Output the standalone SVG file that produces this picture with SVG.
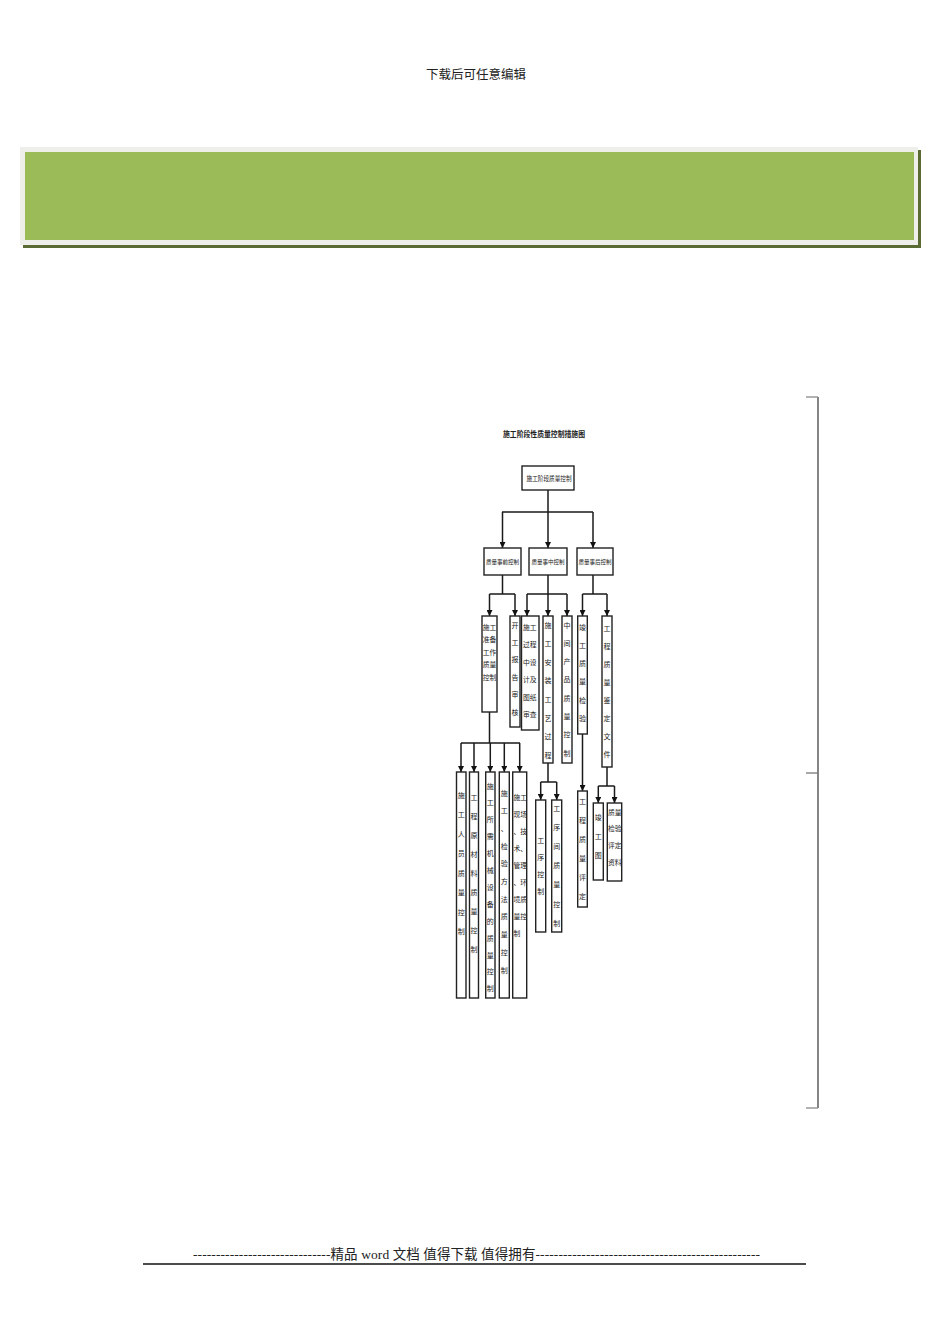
<svg xmlns="http://www.w3.org/2000/svg" width="950" height="1344" viewBox="0 0 950 1344">
<defs>
<style>
.t{font-family:"Liberation Serif","Noto Sans CJK SC",serif;fill:#222}
.v{font-size:7px;text-anchor:middle}
.r{font-size:6.8px;text-anchor:start}
.box{fill:#fff;stroke:#222;stroke-width:1.4}
.ln{fill:none;stroke:#1a1a1a;stroke-width:1.5}
.ar{fill:none;stroke:#1a1a1a;stroke-width:1.5;marker-end:url(#ah)}
</style>
<marker id="ah" viewBox="0 0 8 8" refX="8" refY="4" markerWidth="7" markerHeight="6" markerUnits="userSpaceOnUse" orient="auto">
<path d="M0,0 L8,4 L0,8 z" fill="#111"/>
</marker>
</defs>
<rect width="950" height="1344" fill="#fff"/>

<text class="t" x="476" y="79" font-size="12.5" text-anchor="middle" fill="#333">下载后可任意编辑</text>

<g id="banner">
<rect x="23" y="150" width="898" height="98" fill="#5a6b33"/>
<rect x="20" y="147" width="898" height="98" fill="#eeeeea"/>
<rect x="25" y="152" width="889" height="88" fill="#9bbb59"/>
</g>

<g id="bracket" stroke-width="1.3">
<line x1="818" y1="397" x2="818" y2="1108" stroke="#444"/>
<line x1="806" y1="397" x2="818" y2="397" stroke="#888"/>
<line x1="806" y1="773" x2="818" y2="773" stroke="#777"/>
<line x1="806" y1="1108" x2="818" y2="1108" stroke="#888"/>
</g>

<text id="title" class="t" x="503" y="437" font-size="8" font-weight="bold" textLength="82" lengthAdjust="spacingAndGlyphs">施工阶段性质量控制措施图</text>

<g id="connectors">
<path class="ln" d="M548,490 V512 M502,512 H593"/>
<path class="ar" d="M502.5,512 V548"/>
<path class="ar" d="M548,512 V548"/>
<path class="ar" d="M593,512 V548"/>
<path class="ln" d="M502.5,575 V594 M489.5,594 H515"/>
<path class="ar" d="M489.5,594 V616"/>
<path class="ar" d="M515,594 V616"/>
<path class="ln" d="M548,575 V594 M527,594 H567"/>
<path class="ar" d="M527,594 V616"/>
<path class="ar" d="M548,594 V616"/>
<path class="ar" d="M567,594 V616"/>
<path class="ln" d="M593,575 V594 M582.5,594 H607"/>
<path class="ar" d="M582.5,594 V616"/>
<path class="ar" d="M607,594 V616"/>
<path class="ln" d="M489.5,712 V743 M461,743 H520"/>
<path class="ar" d="M461,743 V772"/>
<path class="ar" d="M474,743 V772"/>
<path class="ar" d="M490.3,743 V772"/>
<path class="ar" d="M504.3,743 V772"/>
<path class="ar" d="M519.7,743 V772"/>
<path class="ln" d="M548,763 V782 M540.7,782 H556.7"/>
<path class="ar" d="M540.7,782 V800"/>
<path class="ar" d="M556.7,782 V800"/>
<path class="ar" d="M582.5,734 V791"/>
<path class="ln" d="M607,767 V786 M598.3,786 H614.5"/>
<path class="ar" d="M598.3,786 V803"/>
<path class="ar" d="M614.5,786 V803"/>
</g>

<g id="root">
<rect class="box" x="522" y="466" width="52" height="24"/>
<text class="t" x="526.5" y="481" font-size="6.5" textLength="45" lengthAdjust="spacingAndGlyphs">施工阶段质量控制</text>
</g>

<g id="pre">
<rect class="box" x="484" y="548" width="37" height="27"/>
<text class="t" x="486" y="564" font-size="6.2" textLength="33" lengthAdjust="spacingAndGlyphs">质量事前控制</text>
</g>
<g id="mid">
<rect class="box" x="529" y="548" width="38" height="27"/>
<text class="t" x="531.5" y="564" font-size="6.2" textLength="33" lengthAdjust="spacingAndGlyphs">质量事中控制</text>
</g>
<g id="post">
<rect class="box" x="577" y="548" width="36" height="27"/>
<text class="t" x="578.5" y="564" font-size="6.2" textLength="33" lengthAdjust="spacingAndGlyphs">质量事后控制</text>
</g>

<g id="prep">
<rect class="box" x="482" y="616" width="15" height="96"/>
<text class="t r"><tspan x="482.8" y="629.5">施工</tspan><tspan x="482.8" y="642">准备</tspan><tspan x="482.8" y="654.5">工作</tspan><tspan x="482.8" y="667">质量</tspan><tspan x="482.8" y="680">控制</tspan></text>
</g>
<g id="report">
<rect class="box" x="510" y="616" width="10" height="111"/>
<text class="t v"><tspan x="515" y="627.5">开</tspan><tspan x="515" y="644.9">工</tspan><tspan x="515" y="662.3">报</tspan><tspan x="515" y="679.7">告</tspan><tspan x="515" y="697.1">审</tspan><tspan x="515" y="714.5">核</tspan></text>
</g>
<g id="design">
<rect class="box" x="521.5" y="616" width="17.5" height="114"/>
<text class="t r" font-size="7.5"><tspan x="523" y="629.5">施工</tspan><tspan x="523" y="647">过程</tspan><tspan x="523" y="664.5">中设</tspan><tspan x="523" y="682">计及</tspan><tspan x="523" y="699.5">图纸</tspan><tspan x="523" y="717">审查</tspan></text>
</g>
<g id="install">
<rect class="box" x="543" y="616" width="10" height="147"/>
<text class="t v"><tspan x="548" y="627.5">施</tspan><tspan x="548" y="646.1">工</tspan><tspan x="548" y="664.7">安</tspan><tspan x="548" y="683.3">装</tspan><tspan x="548" y="701.9">工</tspan><tspan x="548" y="720.5">艺</tspan><tspan x="548" y="739.1">过</tspan><tspan x="548" y="757.7">程</tspan></text>
</g>
<g id="interim">
<rect class="box" x="562" y="616" width="10" height="147"/>
<text class="t v"><tspan x="567" y="627.5">中</tspan><tspan x="567" y="645.8">间</tspan><tspan x="567" y="664.1">产</tspan><tspan x="567" y="682.4">品</tspan><tspan x="567" y="700.7">质</tspan><tspan x="567" y="719">量</tspan><tspan x="567" y="737.3">控</tspan><tspan x="567" y="755.6">制</tspan></text>
</g>
<g id="completion">
<rect class="box" x="577.7" y="616" width="9.6" height="118"/>
<text class="t v"><tspan x="582.5" y="629.5">竣</tspan><tspan x="582.5" y="647.8">工</tspan><tspan x="582.5" y="666.1">质</tspan><tspan x="582.5" y="684.4">量</tspan><tspan x="582.5" y="702.7">检</tspan><tspan x="582.5" y="721">验</tspan></text>
</g>
<g id="appraisal">
<rect class="box" x="602" y="616" width="10" height="151"/>
<text class="t v"><tspan x="607" y="630.5">工</tspan><tspan x="607" y="648.6">程</tspan><tspan x="607" y="666.7">质</tspan><tspan x="607" y="684.8">量</tspan><tspan x="607" y="702.9">鉴</tspan><tspan x="607" y="721">定</tspan><tspan x="607" y="739.1">文</tspan><tspan x="607" y="757.2">件</tspan></text>
</g>

<g id="staff">
<rect class="box" x="456.5" y="772" width="9.5" height="226"/>
<text class="t v"><tspan x="461.2" y="797.5">施</tspan><tspan x="461.2" y="817">工</tspan><tspan x="461.2" y="836.5">人</tspan><tspan x="461.2" y="856">员</tspan><tspan x="461.2" y="875.5">质</tspan><tspan x="461.2" y="895">量</tspan><tspan x="461.2" y="914.5">控</tspan><tspan x="461.2" y="934">制</tspan></text>
</g>
<g id="material">
<rect class="box" x="469.5" y="772" width="9" height="226"/>
<text class="t v"><tspan x="474" y="799.5">工</tspan><tspan x="474" y="818.6">程</tspan><tspan x="474" y="837.7">原</tspan><tspan x="474" y="856.8">材</tspan><tspan x="474" y="875.9">料</tspan><tspan x="474" y="895">质</tspan><tspan x="474" y="914.1">量</tspan><tspan x="474" y="933.2">控</tspan><tspan x="474" y="952.3">制</tspan></text>
</g>
<g id="machinery">
<rect class="box" x="485.7" y="772" width="9.3" height="226"/>
<text class="t v"><tspan x="490.3" y="788.5">施</tspan><tspan x="490.3" y="805.4">工</tspan><tspan x="490.3" y="822.3">所</tspan><tspan x="490.3" y="839.2">需</tspan><tspan x="490.3" y="856.1">机</tspan><tspan x="490.3" y="873">械</tspan><tspan x="490.3" y="889.9">设</tspan><tspan x="490.3" y="906.8">备</tspan><tspan x="490.3" y="923.7">的</tspan><tspan x="490.3" y="940.6">质</tspan><tspan x="490.3" y="957.5">量</tspan><tspan x="490.3" y="974.4">控</tspan><tspan x="490.3" y="991.3">制</tspan></text>
</g>
<g id="method">
<rect class="box" x="499.3" y="772" width="10" height="226"/>
<text class="t v"><tspan x="504.3" y="795.5">施</tspan><tspan x="504.3" y="813.2">工</tspan><tspan x="504.3" y="830.9">、</tspan><tspan x="504.3" y="848.6">检</tspan><tspan x="504.3" y="866.3">验</tspan><tspan x="504.3" y="884">方</tspan><tspan x="504.3" y="901.7">法</tspan><tspan x="504.3" y="919.4">质</tspan><tspan x="504.3" y="937.1">量</tspan><tspan x="504.3" y="954.8">控</tspan><tspan x="504.3" y="972.5">制</tspan></text>
</g>
<g id="environment">
<rect class="box" x="512.7" y="772" width="14" height="226"/>
<text class="t r" font-size="6.4"><tspan x="513.4" y="799.5">施工</tspan><tspan x="513.4" y="816.5">现场</tspan><tspan x="513.4" y="833.5">、技</tspan><tspan x="513.4" y="850.5">术、</tspan><tspan x="513.4" y="867.5">管理</tspan><tspan x="513.4" y="884.5">、环</tspan><tspan x="513.4" y="901.5">境质</tspan><tspan x="513.4" y="918.5">量控</tspan><tspan x="513.4" y="935.5">制</tspan></text>
</g>

<g id="process">
<rect class="box" x="535.7" y="800" width="10" height="132"/>
<text class="t v"><tspan x="540.7" y="842.5">工</tspan><tspan x="540.7" y="859.8">序</tspan><tspan x="540.7" y="877.1">控</tspan><tspan x="540.7" y="894.4">制</tspan></text>
</g>
<g id="interprocess">
<rect class="box" x="551.7" y="800" width="10" height="132"/>
<text class="t v"><tspan x="556.7" y="810.5">工</tspan><tspan x="556.7" y="829.7">序</tspan><tspan x="556.7" y="848.9">间</tspan><tspan x="556.7" y="868.1">质</tspan><tspan x="556.7" y="887.3">量</tspan><tspan x="556.7" y="906.5">控</tspan><tspan x="556.7" y="925.7">制</tspan></text>
</g>
<g id="assessment">
<rect class="box" x="577.7" y="791" width="9.6" height="116"/>
<text class="t v"><tspan x="582.5" y="803.5">工</tspan><tspan x="582.5" y="822.5">程</tspan><tspan x="582.5" y="841.5">质</tspan><tspan x="582.5" y="860.5">量</tspan><tspan x="582.5" y="879.5">评</tspan><tspan x="582.5" y="898.5">定</tspan></text>
</g>
<g id="asbuilt">
<rect class="box" x="593.3" y="803" width="10" height="77"/>
<text class="t v"><tspan x="598.3" y="819.5">竣</tspan><tspan x="598.3" y="838.5">工</tspan><tspan x="598.3" y="857.5">图</tspan></text>
</g>
<g id="records">
<rect class="box" x="607.3" y="803" width="14.4" height="78"/>
<text class="t r" font-size="6.5"><tspan x="608" y="814.5">质量</tspan><tspan x="608" y="830.5">检验</tspan><tspan x="608" y="847.5">评定</tspan><tspan x="608" y="864.5">资料</tspan></text>
</g>

<text class="t" x="193" y="1259" font-size="13.5" textLength="567" lengthAdjust="spacing">------------------------------精品 word 文档 值得下载 值得拥有-------------------------------------------------</text>
<line x1="143" y1="1264" x2="806" y2="1264" stroke="#111" stroke-width="1.5"/>
</svg>
